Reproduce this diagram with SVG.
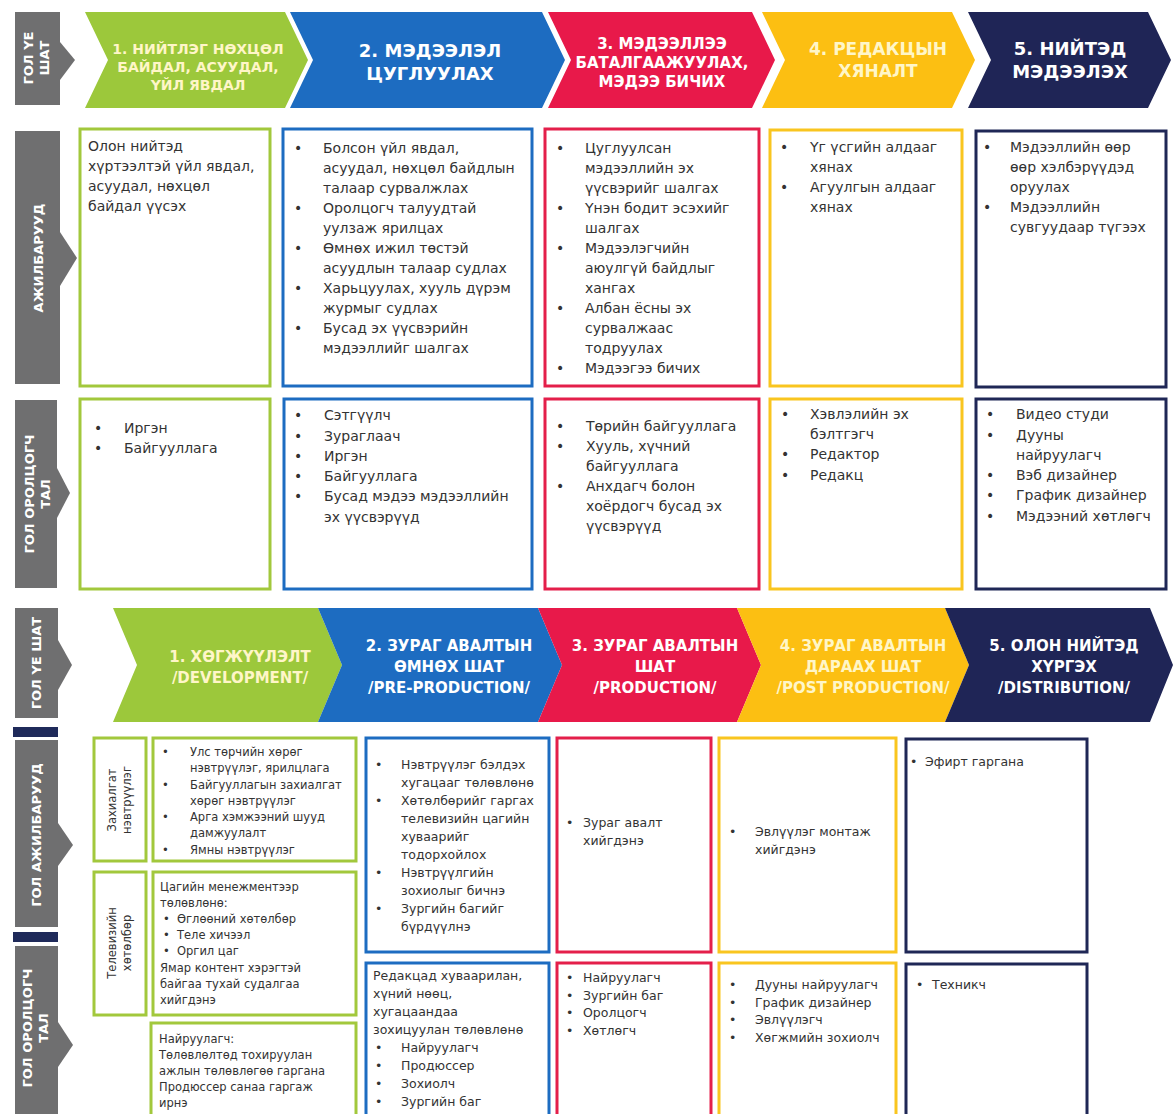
<svg xmlns="http://www.w3.org/2000/svg" width="1173" height="1114" viewBox="0 0 1173 1114">
<style>
.t{font-family:"DejaVu Sans",Verdana,sans-serif;font-size:14px;fill:#333}
.s{font-size:12.5px}
.xs{font-size:11.5px}
.h{font-family:"DejaVu Sans",Verdana,sans-serif;font-weight:bold;fill:#fff;text-anchor:middle}
.hp{fill:#FFF6C8}
.lab{font-family:"DejaVu Sans",Verdana,sans-serif;font-weight:bold;font-size:13px;fill:#fff;text-anchor:middle}
.bar{fill:#6f6f70}
.nv{fill:#1f2a5a}
.box{fill:#fff;stroke-width:3}
.g{stroke:#a2c83c}.b{stroke:#1d6cc1}.r{stroke:#e41f4a}.y{stroke:#f9c51f}.n{stroke:#1f2756}
</style>
<rect width="1173" height="1114" fill="#fff"/>

<!-- TOP SECTION side labels -->
<g id="top-label-stage">
<rect class="bar" x="15" y="12" width="45" height="93"/>
<polygon class="bar" points="60,42 75,60 60,80"/>
<text class="lab" transform="translate(33,58) rotate(-90)">ГОЛ ҮЕ</text>
<text class="lab" transform="translate(49,58) rotate(-90)">ШАТ</text>
</g>
<g id="top-label-tasks">
<rect class="bar" x="15" y="131" width="45" height="253"/>
<polygon class="bar" points="60,232 77,258 60,286"/>
<text class="lab" transform="translate(43,258) rotate(-90)">АЖИЛБАРУУД</text>
</g>
<g id="top-label-actors">
<rect class="bar" x="15" y="400" width="42" height="188"/>
<polygon class="bar" points="57,468 70,493 57,518"/>
<text class="lab" transform="translate(34,494) rotate(-90)">ГОЛ ОРОЛЦОГЧ</text>
<text class="lab" transform="translate(50,494) rotate(-90)">ТАЛ</text>
</g>

<!-- TOP chevrons -->
<g id="top-stage-1">
<path d="M85,12 H285 L308,60 L285,108 H85 L108,60 Z" fill="#9cc83b"/>
<text class="h hp" font-size="14" x="198" y="54">1. НИЙТЛЭГ НӨХЦӨЛ</text>
<text class="h hp" font-size="14" x="198" y="72">БАЙДАЛ, АСУУДАЛ,</text>
<text class="h hp" font-size="14" x="198" y="90">ҮЙЛ ЯВДАЛ</text>
</g>
<g id="top-stage-2">
<path d="M290,12 H542 L565,60 L542,108 H290 L313,60 Z" fill="#1d6cc1"/>
<text class="h" font-size="18" x="430" y="57">2. МЭДЭЭЛЭЛ</text>
<text class="h" font-size="18" x="430" y="80">ЦУГЛУУЛАХ</text>
</g>
<g id="top-stage-3">
<path d="M548,12 H752 L775,60 L752,108 H548 L571,60 Z" fill="#e8194a"/>
<text class="h" font-size="15" x="662" y="49">3. МЭДЭЭЛЛЭЭ</text>
<text class="h" font-size="15" x="662" y="68">БАТАЛГААЖУУЛАХ,</text>
<text class="h" font-size="15" x="662" y="87">МЭДЭЭ БИЧИХ</text>
</g>
<g id="top-stage-4">
<path d="M762,12 H952 L975,60 L952,108 H762 L785,60 Z" fill="#fcbf12"/>
<text class="h hp" font-size="17" x="878" y="55">4. РЕДАКЦЫН</text>
<text class="h hp" font-size="17" x="878" y="77">ХЯНАЛТ</text>
</g>
<g id="top-stage-5">
<path d="M968,12 H1148 L1171,60 L1148,108 H968 L991,60 Z" fill="#1f2556"/>
<text class="h" font-size="18" x="1070" y="55">5. НИЙТЭД</text>
<text class="h" font-size="18" x="1070" y="78">МЭДЭЭЛЭХ</text>
</g>

<!-- TOP row 1: tasks -->
<g id="top-task-1">
<rect class="box g" x="80" y="129" width="190" height="257"/>
<text class="t" x="88" y="151">Олон нийтэд</text>
<text class="t" x="88" y="171">хүртээлтэй үйл явдал,</text>
<text class="t" x="88" y="191">асуудал, нөхцөл</text>
<text class="t" x="88" y="211">байдал үүсэх</text>
</g>
<g id="top-task-2">
<rect class="box b" x="283" y="129" width="249" height="257"/>
<g class="t">
<text x="294" y="153">•</text><text x="323" y="153">Болсон үйл явдал,</text>
<text x="323" y="173">асуудал, нөхцөл байдлын</text>
<text x="323" y="193">талаар сурвалжлах</text>
<text x="294" y="213">•</text><text x="323" y="213">Оролцогч талуудтай</text>
<text x="323" y="233">уулзаж ярилцах</text>
<text x="294" y="253">•</text><text x="323" y="253">Өмнөх ижил төстэй</text>
<text x="323" y="273">асуудлын талаар судлах</text>
<text x="294" y="293">•</text><text x="323" y="293">Харьцуулах, хууль дүрэм</text>
<text x="323" y="313">журмыг судлах</text>
<text x="294" y="333">•</text><text x="323" y="333">Бусад эх үүсвэрийн</text>
<text x="323" y="353">мэдээллийг шалгах</text>
</g>
</g>
<g id="top-task-3">
<rect class="box r" x="545" y="129" width="214" height="257"/>
<g class="t">
<text x="556" y="153">•</text><text x="585" y="153">Цуглуулсан</text>
<text x="585" y="173">мэдээллийн эх</text>
<text x="585" y="193">үүсвэрийг шалгах</text>
<text x="556" y="213">•</text><text x="585" y="213">Үнэн бодит эсэхийг</text>
<text x="585" y="233">шалгах</text>
<text x="556" y="253">•</text><text x="585" y="253">Мэдээлэгчийн</text>
<text x="585" y="273">аюулгүй байдлыг</text>
<text x="585" y="293">хангах</text>
<text x="556" y="313">•</text><text x="585" y="313">Албан ёсны эх</text>
<text x="585" y="333">сурвалжаас</text>
<text x="585" y="353">тодруулах</text>
<text x="556" y="373">•</text><text x="585" y="373">Мэдээгээ бичих</text>
</g>
</g>
<g id="top-task-4">
<rect class="box y" x="770" y="130" width="192" height="256"/>
<g class="t">
<text x="780" y="152">•</text><text x="810" y="152">Үг үсгийн алдааг</text>
<text x="810" y="172">хянах</text>
<text x="780" y="192">•</text><text x="810" y="192">Агуулгын алдааг</text>
<text x="810" y="212">хянах</text>
</g>
</g>
<g id="top-task-5">
<rect class="box n" x="976" y="131" width="190" height="256"/>
<g class="t">
<text x="983" y="152">•</text><text x="1010" y="152">Мэдээллийн өөр</text>
<text x="1010" y="172">өөр хэлбэрүүдэд</text>
<text x="1010" y="192">оруулах</text>
<text x="983" y="212">•</text><text x="1010" y="212">Мэдээллийн</text>
<text x="1010" y="232">сувгуудаар түгээх</text>
</g>
</g>

<!-- TOP row 2: actors -->
<g id="top-actor-1">
<rect class="box g" x="80" y="399" width="190" height="190"/>
<g class="t">
<text x="94" y="433">•</text><text x="124" y="433">Иргэн</text>
<text x="94" y="453">•</text><text x="124" y="453">Байгууллага</text>
</g>
</g>
<g id="top-actor-2">
<rect class="box b" x="284" y="399" width="248" height="190"/>
<g class="t">
<text x="294" y="420">•</text><text x="324" y="420">Сэтгүүлч</text>
<text x="294" y="441">•</text><text x="324" y="441">Зураглаач</text>
<text x="294" y="461">•</text><text x="324" y="461">Иргэн</text>
<text x="294" y="481">•</text><text x="324" y="481">Байгууллага</text>
<text x="294" y="501">•</text><text x="324" y="501">Бусад мэдээ мэдээллийн</text>
<text x="324" y="522">эх үүсвэрүүд</text>
</g>
</g>
<g id="top-actor-3">
<rect class="box r" x="545" y="399" width="214" height="190"/>
<g class="t">
<text x="556" y="431">•</text><text x="586" y="431">Төрийн байгууллага</text>
<text x="556" y="451">•</text><text x="586" y="451">Хууль, хүчний</text>
<text x="586" y="471">байгууллага</text>
<text x="556" y="491">•</text><text x="586" y="491">Анхдагч болон</text>
<text x="586" y="511">хоёрдогч бусад эх</text>
<text x="586" y="531">үүсвэрүүд</text>
</g>
</g>
<g id="top-actor-4">
<rect class="box y" x="770" y="399" width="192" height="190"/>
<g class="t">
<text x="781" y="419">•</text><text x="810" y="419">Хэвлэлийн эх</text>
<text x="810" y="439">бэлтгэгч</text>
<text x="781" y="459">•</text><text x="810" y="459">Редактор</text>
<text x="781" y="480">•</text><text x="810" y="480">Редакц</text>
</g>
</g>
<g id="top-actor-5">
<rect class="box n" x="976" y="399" width="190" height="190"/>
<g class="t">
<text x="986" y="419">•</text><text x="1016" y="419">Видео студи</text>
<text x="986" y="440">•</text><text x="1016" y="440">Дууны</text>
<text x="1016" y="460">найруулагч</text>
<text x="986" y="480">•</text><text x="1016" y="480">Вэб дизайнер</text>
<text x="986" y="500">•</text><text x="1016" y="500">График дизайнер</text>
<text x="986" y="521">•</text><text x="1016" y="521">Мэдээний хөтлөгч</text>
</g>
</g>

<!-- BOTTOM SECTION side labels -->
<g id="bottom-label-stage">
<rect class="bar" x="15" y="608" width="43" height="110"/>
<polygon class="bar" points="58,640 72,665 58,690"/>
<text class="lab" transform="translate(41,663) rotate(-90)">ГОЛ ҮЕ ШАТ</text>
</g>
<g id="bottom-label-tasks">
<rect class="nv" x="13" y="727" width="45" height="10"/>
<rect class="bar" x="15" y="740" width="43" height="187"/>
<polygon class="bar" points="58,823 73,845 58,866"/>
<text class="lab" transform="translate(41,835) rotate(-90)">ГОЛ АЖИЛБАРУУД</text>
</g>
<g id="bottom-label-actors">
<rect class="nv" x="13" y="932" width="45" height="10"/>
<rect class="bar" x="15" y="946" width="43" height="168"/>
<polygon class="bar" points="58,1022 73,1045 58,1067"/>
<text class="lab" transform="translate(32,1028) rotate(-90)">ГОЛ ОРОЛЦОГЧ</text>
<text class="lab" transform="translate(48,1028) rotate(-90)">ТАЛ</text>
</g>

<!-- BOTTOM chevrons -->
<g id="bottom-stage-1">
<path d="M113,608 H318 L342,665 L318,722 H113 L137,665 Z" fill="#9cc83b"/>
<text class="h hp" font-size="15" x="240" y="662">1. ХӨГЖҮҮЛЭЛТ</text>
<text class="h hp" font-size="15" x="240" y="683">/DEVELOPMENT/</text>
</g>
<g id="bottom-stage-2">
<path d="M318,608 H538 L562,665 L538,722 H318 L342,665 Z" fill="#1d6cc1"/>
<text class="h" font-size="15" x="449" y="651">2. ЗУРАГ АВАЛТЫН</text>
<text class="h" font-size="15" x="449" y="672">ӨМНӨХ ШАТ</text>
<text class="h" font-size="15" x="449" y="693">/PRE-PRODUCTION/</text>
</g>
<g id="bottom-stage-3">
<path d="M538,608 H737 L761,665 L737,722 H538 L562,665 Z" fill="#e8194a"/>
<text class="h" font-size="15" x="655" y="651">3. ЗУРАГ АВАЛТЫН</text>
<text class="h" font-size="15" x="655" y="672">ШАТ</text>
<text class="h" font-size="15" x="655" y="693">/PRODUCTION/</text>
</g>
<g id="bottom-stage-4">
<path d="M737,608 H945 L969,665 L945,722 H737 L761,665 Z" fill="#fcbf12"/>
<text class="h hp" font-size="15" x="863" y="651">4. ЗУРАГ АВАЛТЫН</text>
<text class="h hp" font-size="15" x="863" y="672">ДАРААХ ШАТ</text>
<text class="h hp" font-size="15" x="863" y="693">/POST PRODUCTION/</text>
</g>
<g id="bottom-stage-5">
<path d="M945,608 H1150 L1173,665 L1150,722 H945 L969,665 Z" fill="#1f2556"/>
<text class="h" font-size="15" x="1064" y="651">5. ОЛОН НИЙТЭД</text>
<text class="h" font-size="15" x="1064" y="672">ХҮРГЭХ</text>
<text class="h" font-size="15" x="1064" y="693">/DISTRIBUTION/</text>
</g>

<!-- BOTTOM development column -->
<g id="dev-label-custom">
<rect class="box g" x="94" y="738" width="52" height="123"/>
<text class="t xs" text-anchor="middle" transform="translate(116,800) rotate(-90)">Захиалгат</text>
<text class="t xs" text-anchor="middle" transform="translate(131,800) rotate(-90)">нэвтрүүлэг</text>
</g>
<g id="dev-custom">
<rect class="box g" x="153" y="738" width="203" height="123"/>
<g class="t xs">
<text x="162" y="756">•</text><text x="190" y="756">Улс төрчийн хөрөг</text>
<text x="190" y="772">нэвтрүүлэг, ярилцлага</text>
<text x="162" y="789">•</text><text x="190" y="789">Байгууллагын захиалгат</text>
<text x="190" y="805">хөрөг нэвтрүүлэг</text>
<text x="162" y="821">•</text><text x="190" y="821">Арга хэмжээний шууд</text>
<text x="190" y="837">дамжуулалт</text>
<text x="162" y="854">•</text><text x="190" y="854">Ямны нэвтрүүлэг</text>
</g>
</g>
<g id="dev-label-tv">
<rect class="box g" x="94" y="872" width="52" height="143"/>
<text class="t xs" text-anchor="middle" transform="translate(116,943) rotate(-90)">Телевизийн</text>
<text class="t xs" text-anchor="middle" transform="translate(131,943) rotate(-90)">хөтөлбөр</text>
</g>
<g id="dev-tv">
<rect class="box g" x="153" y="872" width="203" height="143"/>
<g class="t xs">
<text x="160" y="891">Цагийн менежментээр</text>
<text x="160" y="907">төлөвлөнө:</text>
<text x="163" y="923">•</text><text x="177" y="923">Өглөөний хөтөлбөр</text>
<text x="163" y="939">•</text><text x="177" y="939">Теле хичээл</text>
<text x="163" y="955">•</text><text x="177" y="955">Оргил цаг</text>
<text x="160" y="972">Ямар контент хэрэгтэй</text>
<text x="160" y="988">байгаа тухай судалгаа</text>
<text x="160" y="1004">хийгдэнэ</text>
</g>
</g>
<g id="dev-actors">
<rect class="box g" x="151" y="1023" width="205" height="96"/>
<g class="t xs">
<text x="159" y="1043">Найруулагч:</text>
<text x="159" y="1059">Төлөвлөлтөд тохируулан</text>
<text x="159" y="1075">ажлын төлөвлөгөө гаргана</text>
<text x="159" y="1091">Продюссер санаа гаргаж</text>
<text x="159" y="1107">ирнэ</text>
</g>
</g>

<!-- BOTTOM pre-production -->
<g id="pre-tasks">
<rect class="box b" x="366" y="738" width="183" height="214"/>
<g class="t s">
<text x="375" y="769">•</text><text x="401" y="769">Нэвтрүүлэг бэлдэх</text>
<text x="401" y="787">хугацааг төлөвлөнө</text>
<text x="375" y="805">•</text><text x="401" y="805">Хөтөлбөрийг гаргах</text>
<text x="401" y="823">телевизийн цагийн</text>
<text x="401" y="841">хуваарийг</text>
<text x="401" y="859">тодорхойлох</text>
<text x="375" y="877">•</text><text x="401" y="877">Нэвтрүүлгийн</text>
<text x="401" y="895">зохиолыг бичнэ</text>
<text x="375" y="913">•</text><text x="401" y="913">Зургийн багийг</text>
<text x="401" y="931">бүрдүүлнэ</text>
</g>
</g>
<g id="pre-actors">
<rect class="box b" x="366" y="963" width="183" height="156"/>
<g class="t s">
<text x="373" y="980">Редакцад хуваарилан,</text>
<text x="373" y="998">хүний нөөц,</text>
<text x="373" y="1016">хугацаандаа</text>
<text x="373" y="1034">зохицуулан төлөвлөнө</text>
<text x="375" y="1052">•</text><text x="401" y="1052">Найруулагч</text>
<text x="375" y="1070">•</text><text x="401" y="1070">Продюссер</text>
<text x="375" y="1088">•</text><text x="401" y="1088">Зохиолч</text>
<text x="375" y="1106">•</text><text x="401" y="1106">Зургийн баг</text>
</g>
</g>

<!-- BOTTOM production -->
<g id="prod-tasks">
<rect class="box r" x="557" y="738" width="154" height="214"/>
<g class="t s">
<text x="566" y="827">•</text><text x="583" y="827">Зураг авалт</text>
<text x="583" y="845">хийгдэнэ</text>
</g>
</g>
<g id="prod-actors">
<rect class="box r" x="557" y="963" width="154" height="156"/>
<g class="t s">
<text x="566" y="982">•</text><text x="583" y="982">Найруулагч</text>
<text x="566" y="1000">•</text><text x="583" y="1000">Зургийн баг</text>
<text x="566" y="1017">•</text><text x="583" y="1017">Оролцогч</text>
<text x="566" y="1035">•</text><text x="583" y="1035">Хөтлөгч</text>
</g>
</g>

<!-- BOTTOM post production -->
<g id="post-tasks">
<rect class="box y" x="719" y="738" width="177" height="214"/>
<g class="t s">
<text x="729" y="836">•</text><text x="755" y="836">Эвлүүлэг монтаж</text>
<text x="755" y="854">хийгдэнэ</text>
</g>
</g>
<g id="post-actors">
<rect class="box y" x="719" y="963" width="177" height="156"/>
<g class="t s">
<text x="729" y="989">•</text><text x="755" y="989">Дууны найруулагч</text>
<text x="729" y="1007">•</text><text x="755" y="1007">График дизайнер</text>
<text x="729" y="1024">•</text><text x="755" y="1024">Эвлүүлэгч</text>
<text x="729" y="1042">•</text><text x="755" y="1042">Хөгжмийн зохиолч</text>
</g>
</g>

<!-- BOTTOM distribution -->
<g id="dist-tasks">
<rect class="box n" x="906" y="739" width="181" height="213"/>
<g class="t s">
<text x="910" y="766">•</text><text x="925" y="766">Эфирт гаргана</text>
</g>
</g>
<g id="dist-actors">
<rect class="box n" x="906" y="964" width="181" height="155"/>
<g class="t s">
<text x="916" y="989">•</text><text x="932" y="989">Техникч</text>
</g>
</g>

<g id="connectors"></g>
</svg>
